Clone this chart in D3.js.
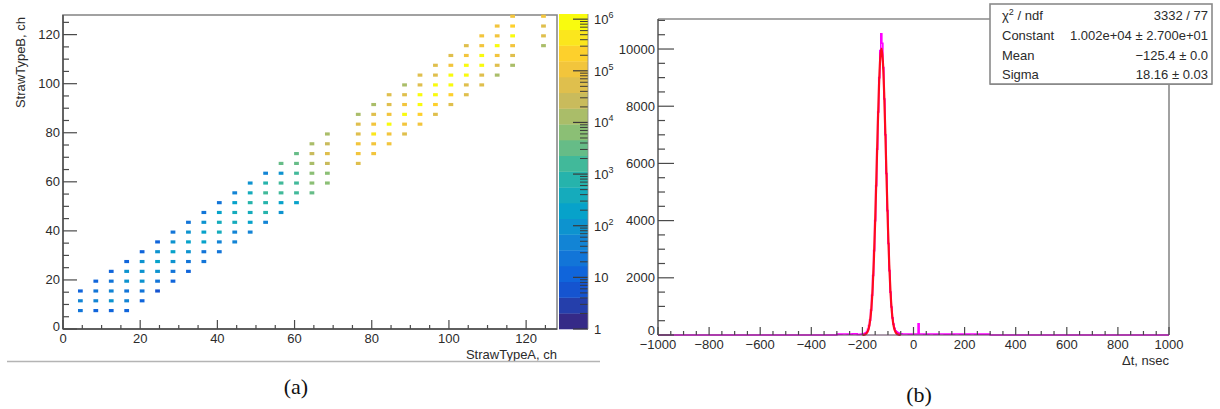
<!DOCTYPE html>
<html><head><meta charset="utf-8">
<script src="https://cdn.jsdelivr.net/npm/d3@7"></script>
<style>
body{margin:0;background:#fff;}
svg{display:block;}
</style>
</head><body>
<svg id="c" width="1220" height="409"></svg>
<script>
// ================= DATA: panel (a) 2D channel map =================
const strawA = [4,8,12,16,20,24,28,32,36,40,44,48,52,56,60,64,68,76,80,84,88,92,96,100,104,108,112,116,124];
const firstB = [8,8,8,8,12,16,20,24,28,32,36,40,44,48,52,56,60,68,72,76,80,84,88,92,96,100,104,108,116];
// log10(counts) per column, rows ascending in StrawTypeB steps of 4 from firstB
const log10Counts = [
  [1.5,1.8,1.1],
  [1.2,1.8,1.3,1.0],
  [1.0,1.9,1.7,1.3,1.1],
  [1.1,1.6,1.4,2.0,1.9,1.0],
  [1.0,1.3,1.9,2.1,1.9,1.1],
  [0.9,1.3,2.0,2.2,1.9,1.2],
  [1.2,1.4,2.0,2.2,2.0,1.3],
  [1.1,1.5,2.1,2.3,2.1,1.4],
  [1.3,1.5,2.2,2.4,1.9,1.4],
  [1.4,1.6,2.6,2.5,2.2,1.5],
  [1.6,1.8,2.5,2.7,2.3,1.6],
  [1.7,2.3,2.7,2.8,2.6,2.0],
  [1.8,2.8,3.0,3.1,2.9,1.8],
  [1.9,2.4,3.1,3.2,2.1,3.4],
  [2.2,3.1,3.3,3.2,3.5,3.5],
  [3.4,3.7,3.8,4.1,4.3,4.2],
  [3.7,3.8,4.5,4.6,4.3,4.2],
  [4.6,5.1,5.1,4.7,4.6,4.2],
  [5.1,5.1,5.5,5.1,4.7,4.2],
  [5.0,5.1,5.8,5.1,4.7,4.6],
  [4.7,5.1,5.8,5.1,4.6,4.2],
  [5.1,5.2,5.9,5.8,4.7,4.6],
  [4.7,5.2,5.8,5.9,4.7,4.6],
  [4.7,5.2,5.8,5.9,5.1,4.7],
  [4.6,4.8,5.8,5.9,5.1,4.7],
  [4.6,4.7,5.9,5.8,5.1,5.0],
  [4.0,4.6,5.1,5.8,5.1,4.9],
  [4.2,4.7,5.1,5.8,5.2,5.0],
  [4.1,4.6,4.6,4.9]
];
const chTicks = [0,20,40,60,80,100,120];
const zExpTicks = [0,1,2,3,4,5,6];
const zMaxLog = 6.1;
const nContours = 20;
// ROOT kBird palette stops
const birdStops = [0,0.125,0.25,0.375,0.5,0.625,0.75,0.875,1];
const birdR = [0.2082,0.0592,0.0780,0.0232,0.1802,0.5301,0.8186,0.9956,0.9764];
const birdG = [0.1664,0.3599,0.5041,0.6419,0.7178,0.7492,0.7328,0.7862,0.9832];
const birdB = [0.5293,0.8684,0.8385,0.7914,0.6425,0.4662,0.3499,0.1968,0.0539];

// ================= DATA: panel (b) time difference =================
const histEdges = [-1000,-300,-280,-260,-240,-220,
  -216,-212,-208,-204,-200,-196,-192,-188,-184,-180,-176,-172,-168,-164,-160,-156,-152,-148,-144,-140,
  -136,-132,-128,-124,-120,-116,-112,-108,-104,-100,-96,-92,-88,-84,-80,-76,-72,-68,-64,-60,-56,-52,-48,-44,-40,
  -20,0,18,22,40,60,80,100,120,140,160,180,200,220,240,260,280,300,1000];
const histCounts = [0,30,35,30,40,
  20,20,25,25,30,35,45,60,80,120,200,330,520,870,1390,2080,2950,4000,5220,6500,
  7800,9000,9950,10530,10200,9350,8250,7000,5650,4350,3200,2250,1500,980,600,380,230,150,110,85,65,50,45,40,35,
  35,30,35,390,35,30,35,30,35,30,30,35,30,30,35,30,30,30,0];
const fitT = [-200,-195,-190,-185,-180,-175,-170,-165,-160,-155,-150,-145,-140,-135,-130,-125,-120,-115,-110,-105,-100,-95,-90,-85,-80,-75,-70,-65,-60,-55,-50];
const fitY = [2,6.5,18,46,109,240,491,929,1632,2656,4003,5596,7252,8713,9703,10019,9586,8504,6994,5331,3768,2468,1499,843,440,213,95,40,15,5.5,2];
const dtTicks = [-1000,-800,-600,-400,-200,0,200,400,600,800,1000];
const countTicks = [0,2000,4000,6000,8000,10000];
const statsNames = ["χ2 / ndf","Constant","Mean","Sigma"];
const statsValues = ["3332 / 77","1.002e+04 ± 2.700e+01","−125.4 ± 0.0","18.16 ± 0.03"];

// ================= DRAW =================
const svg = d3.select("#c");
const FONT = '"Liberation Sans", Arial, Helvetica, sans-serif';
const TXT = "#2b2b2b";
const AX = "#4a4a4a";
const fmt = v => (v < 0 ? "\u2212" + Math.abs(v) : String(v));

// ---------- panel (a) ----------
const xA = d3.scaleLinear([0,128],[63,557]);
const yA = d3.scaleLinear([0,128],[329,15]);
const birdColor = d3.scaleLinear().domain(birdStops)
  .range(birdStops.map((s,i)=>d3.rgb(birdR[i]*255,birdG[i]*255,birdB[i]*255)))
  .interpolate(d3.interpolateRgb);
const levelOf = v => Math.min(nContours-1, Math.max(0, Math.floor(v/zMaxLog*nContours)));
const levelColor = l => birdColor(l/(nContours-1));

const gA = svg.append("g");
// frame
gA.append("rect").attr("x",xA(0)).attr("y",yA(128)).attr("width",xA(128)-xA(0)).attr("height",yA(0)-yA(128))
  .attr("fill","#fff").attr("stroke","#8a8a8a").attr("stroke-width",1.6);

const cells = [];
strawA.forEach((a,i)=>{
  log10Counts[i].forEach((v,k)=>{ cells.push({a, b:firstB[i]+4*k, v}); });
});
const padX = 0.45, padY = 0.35;
gA.selectAll("rect.cell").data(cells).join("rect").attr("class","cell")
  .attr("x",d=>xA(d.a)-padX).attr("width",d=>xA(d.a+1)-xA(d.a)+2*padX)
  .attr("y",d=>yA(d.b)-padY).attr("height",d=>yA(d.b-1)-yA(d.b)+2*padY)
  .attr("fill",d=>levelColor(levelOf(d.v)));

// axes (a)
const axA = gA.append("g").attr("stroke",AX);
axA.append("line").attr("x1",xA(0)).attr("x2",xA(128)).attr("y1",yA(0)).attr("y2",yA(0)).attr("stroke-width",1.4);
axA.append("line").attr("x1",xA(0)).attr("x2",xA(0)).attr("y1",yA(0)).attr("y2",yA(128)).attr("stroke-width",1.4);
const minorCh = d3.range(0,129,5);
axA.selectAll("line.xm").data(minorCh).join("line").attr("class","xm")
  .attr("x1",d=>xA(d)).attr("x2",d=>xA(d)).attr("y1",yA(0)).attr("y2",d=>yA(0)-(d%20===0?9:4)).attr("stroke-width",1.2);
axA.selectAll("line.ym").data(minorCh).join("line").attr("class","ym")
  .attr("y1",d=>yA(d)).attr("y2",d=>yA(d)).attr("x1",xA(0)).attr("x2",d=>xA(0)+(d%20===0?14:6)).attr("stroke-width",1.2);
gA.selectAll("text.xl").data(chTicks).join("text").attr("class","xl")
  .attr("x",d=>xA(d)).attr("y",343).attr("text-anchor","middle")
  .attr("font-family",FONT).attr("font-size",13).attr("fill",TXT).text(d=>d);
gA.selectAll("text.yl").data(chTicks).join("text").attr("class","yl")
  .attr("x",60).attr("y",d=>yA(d)+(d===0?2:4.5)).attr("text-anchor","end")
  .attr("font-family",FONT).attr("font-size",13).attr("fill",TXT).text(d=>d);
gA.append("text").attr("x",xA(128)).attr("y",358.5).attr("text-anchor","end")
  .attr("font-family",FONT).attr("font-size",13).attr("fill",TXT).text("StrawTypeA, ch");
gA.append("text").attr("transform","translate(25,17) rotate(-90)").attr("text-anchor","end")
  .attr("font-family",FONT).attr("font-size",13).attr("fill",TXT).text("StrawTypeB, ch");

// colour bar
const zY = d3.scaleLinear([0,zMaxLog],[329,14]);
const cbX0 = 559, cbX1 = 588;
const bands = d3.range(nContours);
gA.selectAll("rect.band").data(bands).join("rect").attr("class","band")
  .attr("x",cbX0).attr("width",cbX1-cbX0)
  .attr("y",l=>zY((l+1)*zMaxLog/nContours)).attr("height",l=>zY(l*zMaxLog/nContours)-zY((l+1)*zMaxLog/nContours)+0.3)
  .attr("fill",levelColor);
const zMinor = [];
zExpTicks.forEach(e=>{ for(let m=2;m<=9;m++){ const lv=e+Math.log10(m); if(lv<=zMaxLog) zMinor.push(lv);} });
gA.selectAll("line.zm").data(zMinor).join("line").attr("class","zm")
  .attr("x1",cbX1-8).attr("x2",cbX1).attr("y1",d=>zY(d)).attr("y2",d=>zY(d)).attr("stroke","#3a3a3a").attr("stroke-width",1);
gA.selectAll("line.zM").data(zExpTicks).join("line").attr("class","zM")
  .attr("x1",cbX1-15).attr("x2",cbX1).attr("y1",d=>zY(d)).attr("y2",d=>zY(d)).attr("stroke","#3a3a3a").attr("stroke-width",1.2);
gA.append("line").attr("x1",cbX1).attr("x2",cbX1).attr("y1",zY(0)).attr("y2",zY(zMaxLog)).attr("stroke","#888").attr("stroke-width",0.8);
const zl = gA.selectAll("text.zl").data(zExpTicks).join("text").attr("class","zl")
  .attr("x",594).attr("y",d=>zY(d)+5).attr("font-family",FONT).attr("font-size",13).attr("fill",TXT);
zl.each(function(e){
  const t = d3.select(this);
  if(e===0){ t.text("1"); }
  else if(e===1){ t.text("10"); }
  else { t.text("10"); t.append("tspan").attr("dy",-6).attr("font-size",9).text(e); }
});

// left panel bottom border
svg.append("line").attr("x1",7).attr("x2",600).attr("y1",361.5).attr("y2",361.5).attr("stroke","#b4b4b4").attr("stroke-width",1.5);

// ---------- panel (b) ----------
const xB = d3.scaleLinear([-1000,1000],[658,1169]);
const yB = d3.scaleLinear([0,11050],[335,19]);
const gB = svg.append("g");
gB.append("line").attr("x1",xB(-1000)).attr("x2",xB(1000)).attr("y1",yB(11050)).attr("y2",yB(11050)).attr("stroke","#8a8a8a").attr("stroke-width",1.6);
gB.append("line").attr("x1",xB(1000)).attr("x2",xB(1000)).attr("y1",yB(11050)).attr("y2",yB(0)).attr("stroke","#8a8a8a").attr("stroke-width",1.6);

// histogram
const histPts = [];
histCounts.forEach((c,i)=>{ histPts.push([histEdges[i],c]); histPts.push([histEdges[i+1],c]); });
gB.append("path").datum(histPts)
  .attr("d",d3.line().x(d=>xB(d[0])).y(d=>yB(d[1])))
  .attr("fill","none").attr("stroke","#ff00ff").attr("stroke-width",1.6);
// fit curve
gB.append("path").datum(fitT.map((t,i)=>[t,fitY[i]]))
  .attr("d",d3.line().x(d=>xB(d[0])).y(d=>yB(d[1])).curve(d3.curveMonotoneX))
  .attr("fill","none").attr("stroke","#ff0a1e").attr("stroke-width",2.2);

// axes (b)
const axB = gB.append("g").attr("stroke",AX);
axB.append("line").attr("x1",xB(-1000)).attr("x2",xB(1000)).attr("y1",yB(0)).attr("y2",yB(0)).attr("stroke-width",1.2).attr("stroke","#5a3a5a");
axB.append("line").attr("x1",xB(-1000)).attr("x2",xB(-1000)).attr("y1",yB(0)).attr("y2",yB(11050)).attr("stroke-width",1.4);
const dtMinor = d3.range(-1000,1001,50);
axB.selectAll("line.xm").data(dtMinor).join("line").attr("class","xm")
  .attr("x1",d=>xB(d)).attr("x2",d=>xB(d)).attr("y1",yB(0)).attr("y2",d=>yB(0)-(d%200===0?8:4)).attr("stroke-width",1.2);
const cMinor = d3.range(0,11001,500);
axB.selectAll("line.ym").data(cMinor).join("line").attr("class","ym")
  .attr("y1",d=>yB(d)).attr("y2",d=>yB(d)).attr("x1",xB(-1000)).attr("x2",d=>xB(-1000)+(d%2000===0?16:7)).attr("stroke-width",1.2);
gB.selectAll("text.xl").data(dtTicks).join("text").attr("class","xl")
  .attr("x",d=>xB(d)).attr("y",348.5).attr("text-anchor","middle")
  .attr("font-family",FONT).attr("font-size",13).attr("fill",TXT).text(fmt);
gB.selectAll("text.yl").data(countTicks).join("text").attr("class","yl")
  .attr("x",655).attr("y",d=>yB(d)+(d===0?0:4.5)).attr("text-anchor","end")
  .attr("font-family",FONT).attr("font-size",13).attr("fill",TXT).text(d=>d);
gB.append("text").attr("x",xB(1000)).attr("y",364.5).attr("text-anchor","end")
  .attr("font-family",FONT).attr("font-size",13).attr("fill",TXT).text("\u0394t, nsec");

// stats box
const sb = gB.append("g");
sb.append("rect").attr("x",990).attr("y",4).attr("width",222).attr("height",80)
  .attr("fill","#fff").attr("stroke","#8a8a8a").attr("stroke-width",1.6);
sb.append("line").attr("x1",990).attr("x2",1212).attr("y1",84.5).attr("y2",84.5).attr("stroke","#8a8a8a").attr("stroke-width",1.2);
const rowY = [20,40,60,79];
statsNames.forEach((n,i)=>{
  const t = sb.append("text").attr("x",1002).attr("y",rowY[i]).attr("font-family",FONT).attr("font-size",13).attr("fill",TXT);
  if(i===0){ t.text("χ"); t.append("tspan").attr("dy",-5).attr("font-size",9).text("2"); t.append("tspan").attr("dy",5).text(" / ndf"); }
  else t.text(n);
  sb.append("text").attr("x",1208).attr("y",rowY[i]).attr("text-anchor","end").attr("font-family",FONT).attr("font-size",13).attr("fill",TXT).text(statsValues[i]);
});

// captions
svg.append("text").attr("x",296).attr("y",394).attr("text-anchor","middle")
  .attr("font-family",'"Liberation Serif","Times New Roman",serif').attr("font-size",22).attr("fill","#111").text("(a)");
svg.append("text").attr("x",919).attr("y",402).attr("text-anchor","middle")
  .attr("font-family",'"Liberation Serif","Times New Roman",serif').attr("font-size",22).attr("fill","#111").text("(b)");
</script>
</body></html>
